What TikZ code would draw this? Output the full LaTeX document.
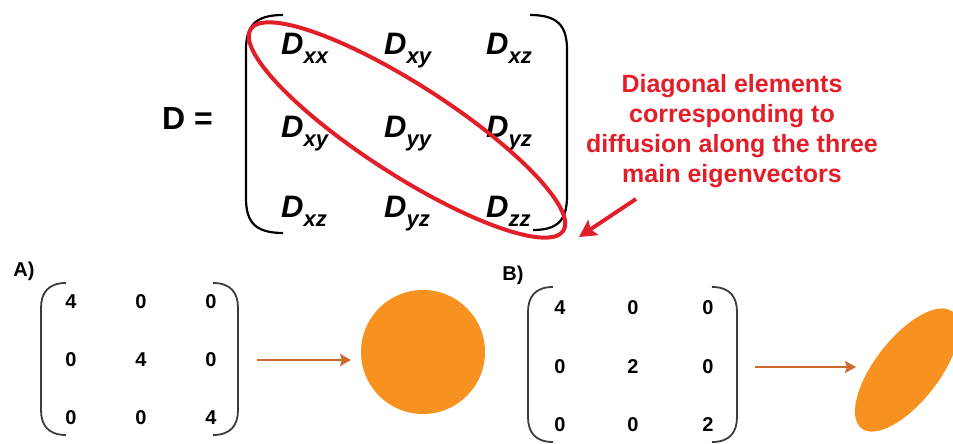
\documentclass[tikz,border=0pt]{standalone}
\usepackage{fontspec}
\setmainfont{Liberation Sans}
\usetikzlibrary{arrows.meta,shapes.geometric}
\definecolor{notered}{RGB}{226,30,40}
\definecolor{blob}{RGB}{247,146,32}
\definecolor{arrorange}{RGB}{205,105,45}
\definecolor{brk}{RGB}{60,60,60}

\begin{document}
\begin{tikzpicture}[x=1pt, y=1pt,
    entry/.style={font=\fontsize{31}{31}\selectfont\bfseries\itshape, anchor=base west, inner sep=0pt},
    num/.style={font=\fontsize{20}{20}\selectfont\bfseries, inner sep=0pt},
    tag/.style={font=\fontsize{20}{20}\selectfont\bfseries, inner sep=0pt},
    flow/.style={arrorange, line width=2.6pt, -{Stealth[length=11pt, width=12pt, inset=2pt]}}]
    \useasboundingbox (0,0) rectangle (953,444);

    % diffusion tensor
    \node[entry, font=\fontsize{32}{32}\selectfont\bfseries] (dname) at (162,314) {D =};
    \foreach \x/\y/\s/\n in {281/389/xx/11, 384/389/xy/12, 486/389/xz/13,
                             281/306/xy/21, 384/306/yy/22, 486/306/yz/23,
                             281/226/xz/31, 384/226/yz/32, 486/226/zz/33} {
        \node[entry] (d\n) at (\x,\y) {D\raisebox{-9pt}{\fontsize{22}{22}\selectfont\s}};
    }
    \draw[line width=2.2pt] (283,429) .. controls (255,429) and (246,418) .. (246,394)
        -- (246,246) .. controls (246,222) and (255,211) .. (283,211);
    \draw[line width=2.2pt] (530,429) .. controls (558,429) and (567,418) .. (567,394)
        -- (567,248) .. controls (567,224) and (558,214) .. (533,214);

    \draw[notered, line width=4pt, rotate around={-32.8:(407,314)}] (407,314) ellipse (186 and 45);

    \node[notered, align=center, font=\fontsize{25}{30}\selectfont\bfseries] (note) at (732,313)
        {Diagonal elements\\corresponding to\\diffusion along the three\\main eigenvectors};
    \coordinate (tail) at (636,245);
    \coordinate (tip) at (579,207);
    \draw[notered, line width=4pt, -{Stealth[length=17pt, width=18pt, inset=3pt]}] (tail) -- (tip);

    % examples A and B
    \node[tag] (taga) at (24,173) {A)};
    \node[tag] (tagb) at (513,169) {B)};
    \foreach \xl/\xr/\yt/\yb in {41/238/161/9, 528/737/157/2} {
        \draw[brk, line width=1.8pt] (\xl+25,\yt) .. controls (\xl+7,\yt) and (\xl,\yt-10) .. (\xl,\yt-25)
            -- (\xl,\yb+25) .. controls (\xl,\yb+10) and (\xl+7,\yb) .. (\xl+25,\yb);
        \draw[brk, line width=1.8pt] (\xr-25,\yt) .. controls (\xr-7,\yt) and (\xr,\yt-10) .. (\xr,\yt-25)
            -- (\xr,\yb+25) .. controls (\xr,\yb+10) and (\xr-7,\yb) .. (\xr-25,\yb);
    }
    \foreach \x/\y/\v/\n in {71/142/4/11, 141/142/0/12, 211/142/0/13,
                             71/84/0/21, 141/84/4/22, 211/84/0/23,
                             71/26/0/31, 141/26/0/32, 211/26/4/33} {
        \node[num] (a\n) at (\x,\y) {\v};
    }
    \foreach \x/\y/\v/\n in {560/136/4/11, 633/136/0/12, 708/136/0/13,
                             560/77/0/21, 633/77/2/22, 708/77/0/23,
                             560/19/0/31, 633/19/0/32, 708/19/2/33} {
        \node[num] (b\n) at (\x,\y) {\v};
    }

    \node[circle, fill=blob, minimum size=124pt, inner sep=0pt] (iso) at (423,92) {};
    \node[ellipse, fill=blob, minimum width=148pt, minimum height=64pt, rotate=52] (aniso) at (907,74) {};

    \coordinate (aout) at (257,84);
    \coordinate (ain) at (351,84);
    \coordinate (bout) at (755,77);
    \coordinate (bin) at (856,77);
    \draw[flow] (aout) -- (ain);
    \draw[flow] (bout) -- (bin);
\end{tikzpicture}
\end{document}
